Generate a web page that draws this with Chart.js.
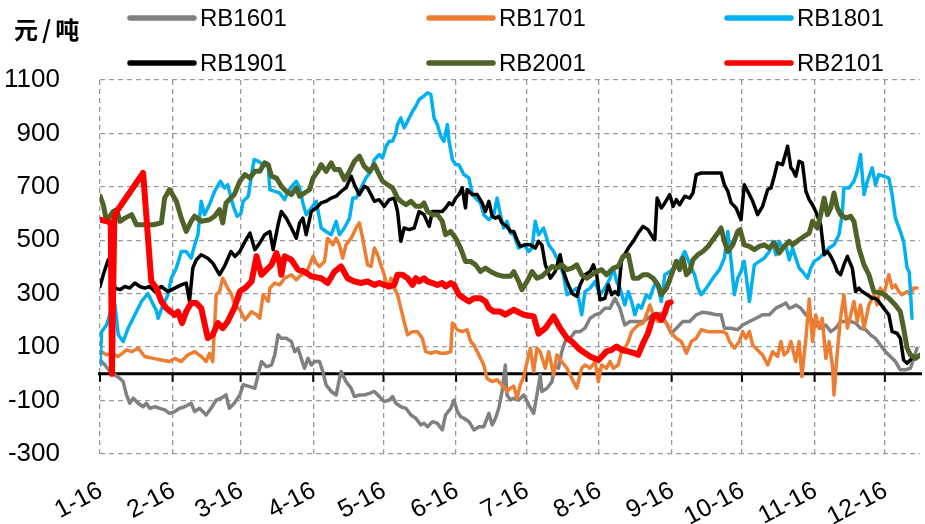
<!DOCTYPE html>
<html>
<head>
<meta charset="utf-8">
<script src="https://cdn.jsdelivr.net/npm/chart.js@4.4.1/dist/chart.umd.min.js"></script>
<style>
  html, body { margin: 0; padding: 0; background: #ffffff; }
  #wrap { width: 925px; height: 524px; }
</style>
</head>
<body>
<div id="wrap"><canvas id="c" width="925" height="524"></canvas></div>
<script>
// ---- Data (x = days after Jan 16, y = spread in 元/吨) ----
const unitLabel = '元/吨';
const seriesNames = ['RB1601', 'RB1701', 'RB1801', 'RB1901', 'RB2001', 'RB2101'];
const monthTickDays = [0, 31, 60, 91, 121, 152, 182, 213, 244, 274, 305, 335];
const monthTickLabels = ['1-16', '2-16', '3-16', '4-16', '5-16', '6-16', '7-16', '8-16', '9-16', '10-16', '11-16', '12-16'];
const yTickValues = [-300, -100, 100, 300, 500, 700, 900, 1100];

const rb1601 = [[0,52],[2.1,33],[4.2,9],[6.4,-4],[8.5,-17],[9.9,-29],[11.3,-79],[12.7,-110],[14.2,-91],[16.3,-110],[18.4,-123],[19.8,-110],[21.2,-129],[23.4,-123],[25.5,-129],[27.6,-135],[29.7,-148],[31.9,-141],[34,-129],[36.1,-123],[38.9,-110],[40.4,-141],[42.5,-129],[45.3,-154],[47.4,-129],[49.6,-98],[51.7,-91],[53.8,-79],[55.2,-129],[57.3,-110],[59.7,-79],[61.1,-41],[64,-48],[66.1,-54],[67.5,-4],[68.9,46],[71.1,27],[73.2,33],[74.6,71],[76,146],[77.4,133],[79.5,133],[81.7,121],[83.1,83],[84.5,96],[85.9,58],[87.3,21],[88.8,58],[90.2,33],[91.6,46],[93.7,46],[95.1,9],[96.5,-41],[98.7,-66],[100.8,-79],[102.9,9],[105,-29],[107.2,-54],[108.6,-85],[110.7,-79],[112.8,-79],[115,-73],[117.1,-66],[119.2,-85],[121.3,-104],[123.5,-98],[124.9,-85],[126.3,-110],[128.4,-123],[130.6,-129],[132.7,-154],[134.8,-166],[136.9,-191],[138.3,-185],[139.8,-198],[141.9,-179],[144,-185],[146.1,-210],[147.5,-154],[149.7,-129],[151.1,-98],[152.5,-141],[153.9,-160],[155.3,-166],[157.5,-179],[159.6,-210],[161.7,-198],[163.8,-198],[166,-148],[167.4,-191],[168.8,-166],[170.2,-129],[171.6,-66],[173,33],[173.7,-79],[175.2,-98],[176.6,-91],[178.7,-98],[180.9,-79],[183,-116],[185.1,-148],[186.5,-79],[187.9,-4],[188.6,-66],[190.8,-54],[192.9,-29],[194.3,33],[195.7,21],[197.1,83],[198.5,121],[200.7,133],[202.8,158],[204.9,158],[207,171],[209.2,208],[211.3,221],[213.4,227],[215.5,246],[217.7,246],[219.8,283],[221.9,246],[224,183],[226.2,196],[228.3,196],[231.8,196],[233.9,208],[236.1,221],[239.6,227],[243.8,152],[246,171],[248.8,196],[251.7,196],[254.5,221],[257.3,231],[260.2,227],[263,221],[265.1,221],[266.5,171],[269.4,171],[272.2,165],[274.3,183],[277.2,196],[280,208],[282.8,221],[285.7,221],[288.5,246],[291.3,258],[292.7,265],[294.2,246],[295.6,250],[297,258],[299.1,246],[301.3,221],[303.4,208],[305.5,183],[307.6,171],[309.8,183],[311.9,158],[314,171],[316.1,196],[318.3,196],[320.4,196],[322.5,190],[324.6,171],[326.8,165],[328.9,146],[331,133],[333.1,108],[335.3,83],[337.4,65],[339.5,46],[341.6,15],[343.7,15],[345.9,21],[347.3,58],[348.7,96]];

const rb1701 = [[0.7,83],[2.8,71],[5,77],[7.8,65],[11.3,90],[13.5,83],[16.3,96],[19.1,65],[22.7,58],[26.2,52],[29.7,46],[31.9,58],[34.7,46],[37.5,71],[40.4,83],[43.2,65],[45.3,46],[46.7,77],[48.1,46],[49.6,296],[51,308],[52.4,358],[54.5,321],[56,300],[57.6,258],[59.7,240],[61.9,202],[64.7,233],[66.8,221],[68.2,208],[69.6,296],[71.8,271],[72.5,321],[74.6,340],[76.7,333],[78.8,358],[81.7,371],[83.8,352],[85.9,371],[88,377],[89.5,408],[90.9,440],[92.3,415],[93.7,402],[95.8,421],[97.2,508],[99.4,483],[100.8,508],[102.2,483],[103.6,433],[105,483],[107.2,508],[109.3,546],[110.7,565],[112.1,508],[114.2,408],[115.7,402],[117.1,471],[118.5,446],[119.9,408],[121.3,371],[122.8,321],[124.2,358],[125.6,321],[127,296],[128.4,246],[129.8,196],[131.3,146],[133.4,158],[135.5,158],[137.6,133],[139,83],[141.2,77],[143.3,83],[145.4,77],[147.5,77],[149.7,83],[150.4,190],[152.5,165],[154.6,158],[156.7,165],[158.2,121],[159.6,108],[161.7,71],[163.8,33],[165.2,-17],[167.4,-29],[169.5,-22],[171.6,-42],[173.7,-66],[175.2,-54],[176.6,-46],[178,-91],[179.4,-41],[180.9,-10],[182.3,46],[183.7,96],[185.1,9],[186.5,96],[187.9,83],[190.1,21],[191.5,83],[193.6,-4],[195,71],[197.1,46],[199.3,21],[201.4,-17],[203.5,-54],[205.6,21],[207,33],[209.2,21],[211.3,46],[212.7,-29],[214.1,33],[216.2,21],[217.7,46],[219.1,21],[221.2,33],[222.6,83],[224,96],[225.5,121],[226.9,158],[228.3,171],[229.7,183],[231.8,190],[233.2,221],[234.7,258],[236.1,221],[238.2,196],[240.3,202],[242.5,183],[243.9,152],[246,133],[248.1,121],[250.3,77],[252.4,121],[254.5,133],[256.6,165],[259.5,158],[262.3,158],[265.8,158],[267.3,152],[268.7,121],[270.8,96],[272.9,121],[274.3,158],[275.7,133],[277.2,158],[278.6,108],[281.4,83],[282.8,71],[285,33],[287.1,83],[289.2,65],[290.6,121],[292,71],[293.5,83],[294.9,121],[297,46],[298.4,121],[299.6,-10],[301.3,133],[302.7,280],[304.1,121],[305.5,221],[306.9,171],[308.3,208],[309.8,58],[311.2,121],[312.6,33],[313.3,-79],[314.7,83],[316.1,208],[317.5,296],[319,171],[320.4,221],[321.8,271],[323.2,196],[324.6,258],[326.1,171],[328.2,258],[330.3,296],[331.7,258],[333.1,321],[334.5,296],[336.7,371],[338.1,321],[339.5,333],[340.9,308],[342.3,296],[344.5,308],[345.9,296],[347.3,321],[348.7,321]];

const rb1801 = [[0,33],[0.7,158],[2.8,183],[5,246],[6.4,258],[7.8,146],[9.9,121],[12,171],[14.9,221],[17.7,271],[20.5,300],[22.7,260],[24.1,236],[24.8,208],[26.9,258],[29,296],[30.4,358],[32.6,396],[34.7,458],[36.8,458],[38.9,433],[40.4,483],[41.8,521],[43.2,646],[44.6,596],[46.7,633],[48.9,683],[51.4,721],[53.1,696],[54.5,708],[56.9,627],[58.5,590],[60.1,600],[61.1,646],[63.3,665],[64.7,746],[65.8,802],[67.5,796],[69.6,783],[71.8,777],[72.5,690],[74.6,683],[76.7,677],[78.8,652],[80.3,683],[82.4,708],[83.8,721],[85.2,696],[86.6,640],[88,596],[90.2,621],[92.3,646],[94.4,546],[96.5,533],[98.7,521],[100.8,571],[102.2,521],[104.3,546],[106.5,583],[107.9,658],[109.3,658],[111.4,696],[113.5,733],[115.7,758],[117.1,802],[119.2,821],[120.6,808],[122.1,852],[123.5,871],[124.9,871],[126.3,902],[127,933],[128.4,958],[129.8,921],[131.3,946],[133.4,983],[134.8,1002],[136.2,1027],[138.3,1040],[139.8,1052],[141.2,1046],[142.6,958],[144,933],[145.4,890],[146.8,871],[148.3,933],[149,871],[150.4,802],[151.8,783],[153.2,783],[155.3,746],[157.5,733],[158.9,671],[161,652],[162.4,640],[163.8,596],[166,577],[168.1,596],[169.5,658],[170.9,596],[172.3,546],[173.7,571],[175.2,527],[176.6,521],[178.7,471],[180.9,483],[183,458],[184.4,471],[185.8,571],[187.2,521],[189.3,546],[191.5,483],[193.6,458],[195.7,421],[197.8,371],[199.3,296],[201.4,308],[203.5,321],[205.6,221],[207,308],[209.2,321],[211.3,346],[213.4,296],[215.5,321],[217.7,358],[219.1,396],[220.5,346],[221.9,321],[224,258],[225.5,308],[226.9,271],[228.3,221],[229.7,258],[231.1,246],[233.2,296],[234.7,283],[236.1,321],[237.5,346],[238.9,296],[239.6,271],[241.1,371],[243.2,383],[245.3,396],[247.4,421],[249.6,458],[251,427],[252.4,396],[253.8,371],[255.2,321],[256.6,296],[258.8,321],[261.6,358],[264.4,390],[266.5,433],[268,533],[269.4,421],[270.8,296],[272.2,358],[273.6,383],[275,421],[277.2,271],[279.3,408],[281.4,421],[283.5,433],[285.7,458],[287.1,496],[288.5,446],[289.9,496],[291.3,471],[292.7,483],[294.2,427],[295.6,471],[297,433],[298.4,396],[299.8,383],[302,358],[303.4,396],[304.8,421],[306.9,433],[309.1,452],[311.2,471],[313.3,483],[315.4,521],[316.8,596],[317.5,696],[319.7,696],[321.8,721],[323.2,758],[324.6,821],[326.1,671],[327.5,721],[329.6,771],[331,708],[332.4,746],[334.5,740],[336.7,733],[338.1,671],[339.5,583],[341.6,533],[343,496],[344.5,396],[345.4,383],[346.6,208]];

const rb1901 = [[0,327],[1.4,371],[3.5,427],[5,396],[6.4,321],[8.5,315],[10.6,327],[12.7,321],[14.9,340],[17,327],[19.1,321],[21.2,327],[23.4,308],[26.2,327],[29,308],[31.9,321],[34.7,333],[36.8,340],[38.2,271],[39.6,396],[41.1,427],[43.2,446],[46,433],[48.1,415],[51,371],[53.1,402],[55.9,458],[57.6,440],[59.7,458],[61.9,496],[64,527],[66.1,465],[68.2,490],[70.3,521],[72.5,533],[73.9,465],[76,558],[77.4,608],[79.5,583],[81.7,546],[83.8,508],[85.2,565],[86.6,583],[88,521],[90.2,608],[92.3,621],[94.4,640],[96.5,646],[98.7,658],[100.8,665],[102.9,683],[105,696],[107.2,740],[108.6,708],[110.7,671],[112.8,702],[114.2,696],[115.7,671],[117.1,646],[119.2,652],[121.3,627],[123.5,652],[125.6,658],[127,608],[128.4,496],[129.8,546],[132,540],[134.1,546],[136.2,608],[138.3,596],[140.5,552],[141.9,608],[144,608],[146.1,608],[147.5,621],[149,640],[150.4,633],[151.8,658],[153.2,671],[154.6,696],[156,621],[156.7,690],[158.9,671],[161,671],[163.1,640],[164.5,608],[166,646],[167.4,590],[168.8,583],[170.2,590],[171.6,565],[173.7,552],[175.2,533],[176.6,533],[178,502],[179.4,477],[181.6,483],[183.7,483],[185.8,471],[187.2,496],[188.6,483],[190.1,408],[192.2,358],[194.3,383],[196.4,446],[197.8,383],[199.3,346],[201.4,302],[203.5,290],[204.9,333],[207,371],[209.2,383],[210.6,408],[212,371],[213.4,277],[215.5,283],[217,333],[218.4,296],[219.8,308],[221.2,296],[222.6,427],[225.5,471],[227.6,496],[229.7,527],[231.8,552],[233.9,540],[236.1,508],[236.8,502],[237.8,658],[239.6,621],[241.1,640],[243.2,671],[244.6,627],[246,652],[247.4,633],[249.6,665],[251.7,658],[253.1,677],[254.5,746],[256.6,752],[260.9,752],[265.1,752],[266.5,708],[268,683],[269.4,640],[271.5,621],[273.6,577],[275,708],[277.2,671],[278.6,646],[280.7,596],[282.8,627],[285,690],[286.4,696],[287.8,740],[289.2,790],[291.3,783],[293.5,852],[294.9,771],[295.6,765],[297,740],[298.4,796],[299.8,790],[301.3,683],[302.7,652],[304.1,633],[305.5,608],[307.6,558],[309.1,446],[310.5,458],[311.9,440],[313.3,415],[314.7,383],[316.1,371],[317.5,408],[319,440],[321.1,396],[322.5,308],[323.9,321],[325.3,308],[327.5,296],[329.6,283],[331,283],[332.4,271],[334.5,246],[336.7,221],[338.1,158],[340.2,152],[341.6,133],[343,52],[344.5,40],[346.6,58]];

const rb2001 = [[0,665],[1.4,633],[2.8,571],[4.2,590],[5.7,608],[7.1,615],[8.5,571],[10.6,583],[13.5,596],[15.6,558],[19.1,558],[22.7,558],[26.2,565],[27.6,658],[29.7,690],[32.6,646],[34.7,583],[36.8,533],[38.9,571],[40.4,590],[43.2,571],[46.7,577],[48.9,590],[51,615],[52.4,565],[53.8,640],[57.3,671],[59.7,721],[61.9,746],[64,733],[66.1,758],[68.2,758],[70.3,790],[71.8,783],[73.2,740],[75.3,733],[77.4,702],[79.5,683],[81.7,671],[83.8,696],[85.2,665],[87.3,677],[89.5,690],[90.9,733],[93,758],[94.4,783],[96.5,758],[98.7,790],[100.1,765],[102.2,765],[104.3,727],[106.5,758],[108.6,796],[110.7,815],[112.8,777],[115,758],[117.1,783],[118.5,758],[120.6,721],[122.8,708],[124.9,696],[127,658],[128.4,646],[130.6,633],[132.7,646],[134.8,627],[136.9,627],[138.3,640],[139.8,608],[141.9,596],[144,596],[146.1,571],[147.5,521],[149.7,533],[151.8,508],[153.9,471],[156,421],[158.2,421],[160.3,408],[162.4,383],[164.5,396],[166.7,383],[169.5,371],[172.3,365],[175.2,365],[176.6,383],[178.7,346],[180.1,315],[182.3,346],[184.4,383],[186.5,358],[188.6,365],[190.8,383],[192.9,402],[195,396],[197.1,408],[199.3,390],[201.4,396],[203.5,408],[205.6,371],[207.8,358],[209.9,371],[212,383],[214.1,390],[216.2,371],[219.1,396],[221.2,402],[223.3,440],[225.5,446],[227.6,358],[229.7,358],[231.8,371],[233.9,371],[236.1,358],[238.2,333],[239.6,296],[241.8,321],[243.9,371],[246,421],[247.4,390],[248.8,433],[250.3,371],[251.7,383],[253.1,427],[255.2,446],[257.3,458],[259.5,477],[261.6,502],[263.7,527],[265.1,546],[266.5,496],[268,458],[270.1,483],[272.2,533],[273.2,540],[275,483],[277.2,477],[279.3,465],[281.4,477],[283.5,483],[285.7,471],[287.8,490],[289.9,452],[292,477],[294.2,496],[295.6,483],[298.4,502],[300.6,515],[302.7,527],[304.1,571],[306.2,546],[307.6,596],[309.1,658],[310.5,596],[311.9,621],[313.3,677],[314.7,621],[316.1,596],[318.3,583],[320.4,590],[321.8,571],[323.9,471],[326.1,408],[328.2,371],[330.3,308],[333.8,302],[336.7,283],[339.5,258],[341.6,233],[343,171],[344.5,96],[345.9,71],[348,58],[350,70]];

const rb2101 = [[0,577],[3.5,570],[4.6,560],[5.1,0],[6.1,583],[7.1,608],[18.4,752],[21.9,346],[24.1,321],[26.2,271],[28.3,246],[30.5,230],[31.9,221],[33.3,233],[35,190],[36.8,233],[38.9,265],[41.1,265],[43.2,246],[46,134],[48.1,146],[50.3,190],[52.4,171],[54.5,196],[57.3,246],[59.7,308],[61.9,321],[64.7,346],[66.8,440],[68.9,371],[73.2,408],[75.3,452],[76.7,415],[77.4,371],[78.8,440],[81.7,427],[84.5,390],[87.3,383],[90.2,365],[94.4,358],[97.2,340],[100.1,383],[102.9,402],[105.7,358],[108.6,346],[111.4,340],[114.2,346],[117.1,333],[119.2,340],[121.3,333],[123.5,327],[125.6,333],[127,371],[129.1,371],[131.3,358],[133.4,333],[134.8,358],[136.2,346],[138.3,358],[139.8,346],[141.9,340],[144,333],[146.1,340],[147.5,327],[149.7,340],[151.1,333],[153.2,296],[155.3,283],[157.5,271],[159.6,283],[162.4,283],[164.5,271],[166,246],[168.1,233],[170.9,233],[173,221],[175.2,233],[176.6,240],[180.9,221],[185.1,215],[187.2,150],[190.1,171],[193.6,215],[196.4,171],[199.3,134],[201.4,121],[204.9,90],[209.2,65],[212.8,52],[216.2,84],[218.4,90],[220.5,102],[222.6,90],[225.4,84],[228.3,77],[229.7,71],[231.8,115],[233.9,152],[236.1,215],[237.5,221],[239.6,202],[241,227],[242.4,265],[243.6,268]];

const seriesData = [rb1601, rb1701, rb1801, rb1901, rb2001, rb2101];
const seriesColors = ['#808080', '#ED7D31', '#00B0F0', '#000000', '#4F6228', '#FF0000'];
const seriesWidths = [3.5, 3.5, 3.5, 3.5, 5, 6];

const FONT = "'Liberation Sans', Arial, sans-serif";

// zero axis line + tick marks (axis crosses at 0)
const zeroAxisPlugin = {
  id: 'zeroAxis',
  beforeDatasetsDraw(chart) {
    const { ctx, chartArea, scales } = chart;
    const y0 = scales.y.getPixelForValue(0);
    ctx.save();
    ctx.strokeStyle = '#000';
    ctx.lineWidth = 3;
    ctx.beginPath();
    ctx.moveTo(chartArea.left - 2, y0);
    ctx.lineTo(chartArea.right + 2, y0);
    ctx.stroke();
    ctx.lineWidth = 2;
    monthTickDays.forEach(d => {
      const px = scales.x.getPixelForValue(d);
      ctx.beginPath();
      ctx.moveTo(px, y0);
      ctx.lineTo(px, y0 + 8);
      ctx.stroke();
    });
    ctx.restore();
  }
};

// rotated month labels below the plot (positioned from the x scale)
const monthLabelPlugin = {
  id: 'monthLabels',
  afterDraw(chart) {
    const { ctx, chartArea, scales } = chart;
    ctx.save();
    ctx.fillStyle = '#000';
    ctx.font = '25px ' + FONT;
    ctx.textAlign = 'right';
    ctx.textBaseline = 'top';
    monthTickDays.forEach((d, i) => {
      const px = scales.x.getPixelForValue(d);
      ctx.save();
      ctx.translate(px - 5, chartArea.bottom + 24);
      ctx.rotate(-28 * Math.PI / 180);
      ctx.fillText(monthTickLabels[i], 0, 0);
      ctx.restore();
    });
    ctx.restore();
  }
};

// custom legend: 2 rows x 3 columns, plus unit label
const legendPlugin = {
  id: 'customLegend',
  afterDraw(chart) {
    const { ctx } = chart;
    const colX = [130, 429, 727];
    const rowY = [18, 63];
    ctx.save();
    chart.data.datasets.forEach((ds, i) => {
      const lx = colX[i % 3];
      const ly = rowY[Math.floor(i / 3)];
      ctx.strokeStyle = ds.borderColor;
      ctx.lineWidth = 5.5;
      ctx.lineCap = 'round';
      ctx.beginPath();
      ctx.moveTo(lx, ly);
      ctx.lineTo(lx + 64, ly);
      ctx.stroke();
      ctx.fillStyle = '#000';
      ctx.font = '24px ' + FONT;
      ctx.textAlign = 'left';
      ctx.textBaseline = 'middle';
      ctx.fillText(ds.label, lx + 70, ly + 1);
    });
    ctx.fillStyle = '#000';
    ctx.font = "bold 24px 'Noto Sans CJK SC', sans-serif";
    try { ctx.letterSpacing = '4px'; } catch (e) {}
    ctx.textAlign = 'left';
    ctx.textBaseline = 'middle';
    ctx.fillText(unitLabel, 14, 30);
    ctx.restore();
  }
};

new Chart(document.getElementById('c'), {
  type: 'line',
  data: {
    datasets: seriesNames.map((name, i) => ({
      label: name,
      data: seriesData[i].map(p => ({ x: p[0], y: p[1] })),
      borderColor: seriesColors[i],
      backgroundColor: seriesColors[i],
      borderWidth: seriesWidths[i],
      pointRadius: 0,
      tension: 0,
      fill: false,
      borderJoinStyle: 'round',
      borderCapStyle: 'round',
      order: seriesNames.length - i
    }))
  },
  options: {
    responsive: false,
    animation: false,
    devicePixelRatio: 1,
    layout: { padding: { top: 80, left: 0, right: 5, bottom: 0 } },
    plugins: { legend: { display: false }, tooltip: { enabled: false }, title: { display: false } },
    scales: {
      x: {
        type: 'linear',
        min: 0,
        max: 350,
        afterBuildTicks: s => { s.ticks = monthTickDays.map(v => ({ value: v })); },
        afterFit: s => { s.height = 70; },
        grid: { color: '#9a9a9a', lineWidth: 1.3, drawTicks: false },
        border: { display: false, dash: [5, 4] },
        ticks: {
          display: false,
          autoSkip: false,
          callback: (v, idx) => monthTickLabels[idx]
        }
      },
      y: {
        type: 'linear',
        min: -300,
        max: 1100,
        afterBuildTicks: s => { s.ticks = yTickValues.map(v => ({ value: v })); },
        afterFit: s => { s.width = 100; },
        grid: { color: '#9a9a9a', lineWidth: 1.3, drawTicks: false },
        border: { display: false, dash: [5, 4] },
        ticks: {
          padding: 40,
          color: '#000',
          font: { family: FONT, size: 26 },
          callback: v => String(v)
        }
      }
    }
  },
  plugins: [zeroAxisPlugin, monthLabelPlugin, legendPlugin]
});
</script>
</body>
</html>
